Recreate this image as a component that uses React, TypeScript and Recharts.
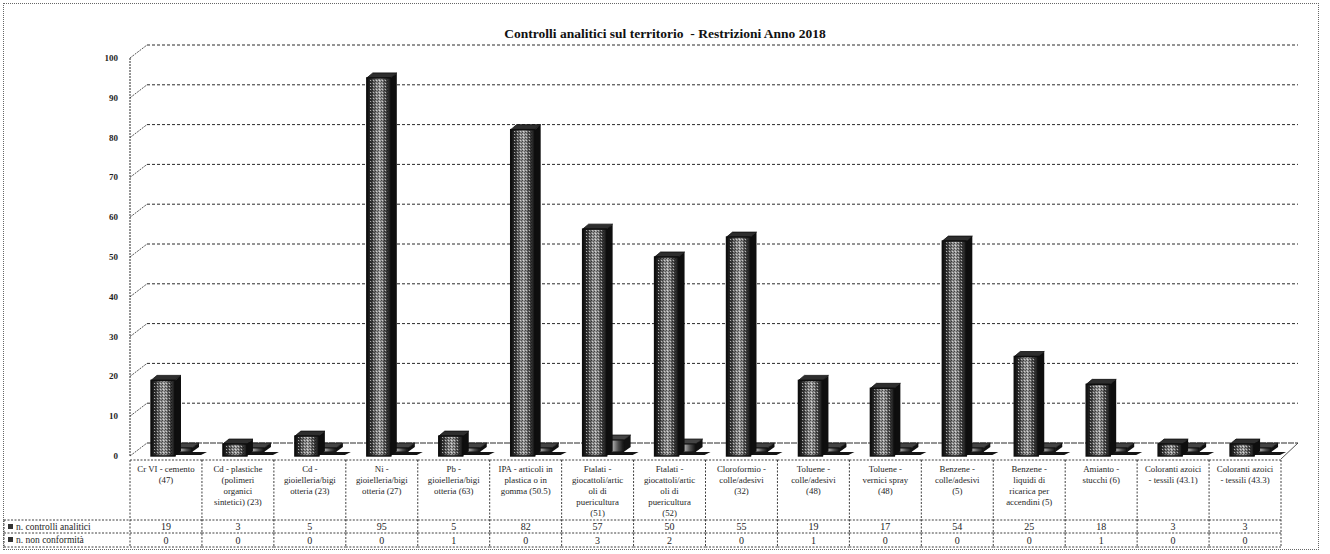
import { BarChart, Bar, XAxis, YAxis, CartesianGrid } from 'recharts';

// Category labels, with the line breaks used in the data table
const categories = [
  'Cr VI - cemento\n(47)',
  'Cd - plastiche\n(polimeri\norganici\nsintetici) (23)',
  'Cd -\ngioielleria/bigi\notteria (23)',
  'Ni -\ngioielleria/bigi\notteria (27)',
  'Pb -\ngioielleria/bigi\notteria (63)',
  'IPA - articoli in\nplastica o in\ngomma (50.5)',
  'Ftalati -\ngiocattoli/artic\noli di\npuericultura\n(51)',
  'Ftalati -\ngiocattoli/artic\noli di\npuericultura\n(52)',
  'Cloroformio -\ncolle/adesivi\n(32)',
  'Toluene -\ncolle/adesivi\n(48)',
  'Toluene -\nvernici spray\n(48)',
  'Benzene -\ncolle/adesivi\n(5)',
  'Benzene -\nliquidi di\nricarica per\naccendini (5)',
  'Amianto -\nstucchi (6)',
  'Coloranti azoici\n- tessili (43.1)',
  'Coloranti azoici\n- tessili (43.3)',
];
const controlli = [19, 3, 5, 95, 5, 82, 57, 50, 55, 19, 17, 54, 25, 18, 3, 3];
const nonConformita = [0, 0, 0, 0, 1, 0, 3, 2, 0, 1, 0, 0, 0, 1, 0, 0];
const seriesNames = ['n. controlli analitici', 'n. non conformità'];
const yTicks = [0, 10, 20, 30, 40, 50, 60, 70, 80, 90, 100];

const W = 1330;
const H = 554;
const PLOT_LEFT = 130;
const PLOT_RIGHT = 1281;
const PLOT_TOP = 58;
const PLOT_BOTTOM = 456;
const BAND = (PLOT_RIGHT - PLOT_LEFT) / categories.length;
const DEPTH_X = 17;
const DEPTH_Y = -13;
const TABLE_TOP = 460;
const ROW1 = 520;
const ROW2 = 533;
const TABLE_BOTTOM = 547;
const FONT = '"Liberation Serif", "DejaVu Serif", serif';
const LINE = '#2a2a2a';
const TEXT = '#1e1e1e';

const data = categories.map((name, i) => ({
  name,
  controlli: controlli[i],
  nonConformita: nonConformita[i],
}));

// front row bar: face + side + top
const FrontBar = (props: any) => {
  const { x, y, width, height } = props;
  const fx = x - 3;
  const w = width;
  const dx = 6;
  const dy = 5;
  const top = y;
  const bottom = y + height;
  return (
    <g>
      <polygon
        points={`${fx + w},${top} ${fx + w + dx},${top - dy} ${fx + w + dx},${bottom - dy} ${fx + w},${bottom}`}
        fill="#0e0e0e"
      />
      <polygon
        points={`${fx},${top} ${fx + dx},${top - dy} ${fx + w + dx},${top - dy} ${fx + w},${top}`}
        fill="#2e2e2e"
        stroke="#0e0e0e"
        strokeWidth={0.8}
      />
      <rect x={fx} y={top} width={w} height={height} fill="url(#barFace)" stroke="#0e0e0e" strokeWidth={1.4} />
      <rect x={fx + 3} y={top + 1} width={w - 6} height={Math.max(0, height - 2)} fill="url(#dither)" />
    </g>
  );
};

// back row bar, sits one row deeper and partly hidden by the front one
const BackBar = (props: any) => {
  const { x, y, width, height } = props;
  const fx = x + 14;
  const w = width;
  const dx = 7;
  const dy = 5;
  const bottom = y + height - 4;
  const top = Math.min(y - 4, bottom - 4);
  return (
    <g>
      <polygon
        points={`${fx + w},${top} ${fx + w + dx},${top - dy} ${fx + w + dx},${bottom - dy} ${fx + w},${bottom}`}
        fill="#121212"
      />
      <polygon
        points={`${fx},${top} ${fx + dx},${top - dy} ${fx + w + dx},${top - dy} ${fx + w},${top}`}
        fill="#444"
        stroke="#111"
        strokeWidth={0.8}
      />
      <rect x={fx} y={top} width={w} height={bottom - top} fill="url(#barFace)" stroke="#111" strokeWidth={1} />
      <polygon
        points={`${fx},${bottom} ${fx + w + dx + 8},${bottom} ${fx + w + dx + 2},${bottom + 3} ${fx},${bottom + 3}`}
        fill="#151515"
      />
    </g>
  );
};

const GridLine = (props: any) => {
  const { x1, x2, y1, index } = props;
  const isFloor = Math.abs(y1 - PLOT_BOTTOM) < 1;
  return (
    <g key={`grid-${index}-${y1}`}>
      <line
        x1={x1 + DEPTH_X}
        y1={y1 + DEPTH_Y}
        x2={x2 + DEPTH_X}
        y2={y1 + DEPTH_Y}
        stroke={LINE}
        strokeWidth={1}
        strokeDasharray={isFloor ? '6 1' : '3 2'}
      />
      <line x1={x1} y1={y1} x2={x1 + DEPTH_X} y2={y1 + DEPTH_Y} stroke={LINE} strokeWidth={0.8} strokeDasharray="2 1" />
      {isFloor && (
        <line x1={x2} y1={y1 + 3} x2={x2 + DEPTH_X} y2={y1 + DEPTH_Y} stroke={LINE} strokeWidth={0.8} />
      )}
    </g>
  );
};

const YTick = (props: any) => {
  const { y, payload } = props;
  return (
    <text x={PLOT_LEFT - 12} y={y + 3} textAnchor="end" fontFamily={FONT} fontSize={9} fontWeight="bold" fill={TEXT}>
      {payload.value}
    </text>
  );
};

const dotted = { stroke: LINE, strokeWidth: 0.9, strokeDasharray: '2 1.5' };

// Each x tick draws one column of the data table
const TableTick = (props: any) => {
  const { x, payload } = props;
  const i = categories.indexOf(payload.value);
  const left = x - BAND / 2;
  const right = x + BAND / 2;
  const lines = String(payload.value).split('\n');
  return (
    <g>
      <line x1={left} y1={TABLE_TOP} x2={right} y2={TABLE_TOP} {...dotted} />
      <line x1={left} y1={ROW1} x2={right} y2={ROW1} {...dotted} />
      <line x1={left} y1={ROW2} x2={right} y2={ROW2} {...dotted} />
      <line x1={left} y1={TABLE_BOTTOM} x2={right} y2={TABLE_BOTTOM} {...dotted} />
      <line x1={left} y1={TABLE_TOP} x2={left} y2={TABLE_BOTTOM} {...dotted} />
      {i === categories.length - 1 && <line x1={right} y1={TABLE_TOP} x2={right} y2={TABLE_BOTTOM} {...dotted} />}
      {lines.map((ln, k) => (
        <text key={k} x={x} y={472 + k * 11} textAnchor="middle" fontFamily={FONT} fontSize={8.8} fill={TEXT}>
          {ln}
        </text>
      ))}
      <text x={x} y={ROW1 + 10} textAnchor="middle" fontFamily={FONT} fontSize={10} fill={TEXT}>
        {controlli[i]}
      </text>
      <text x={x} y={ROW2 + 11} textAnchor="middle" fontFamily={FONT} fontSize={10} fill={TEXT}>
        {nonConformita[i]}
      </text>
      {i === 0 && (
        <g>
          <line x1={4} y1={ROW1} x2={left} y2={ROW1} {...dotted} />
          <line x1={4} y1={ROW2} x2={left} y2={ROW2} {...dotted} />
          <line x1={4} y1={TABLE_BOTTOM} x2={left} y2={TABLE_BOTTOM} {...dotted} />
          <line x1={4} y1={ROW1} x2={4} y2={TABLE_BOTTOM} {...dotted} />
          <rect x={8} y={ROW1 + 4} width={5} height={5} fill="#333" />
          <rect x={8} y={ROW2 + 4} width={5} height={5} fill="#333" />
          <text x={16} y={ROW1 + 9.5} fontFamily={FONT} fontSize={9.5} fill={TEXT}>
            {seriesNames[0]}
          </text>
          <text x={16} y={ROW2 + 9.5} fontFamily={FONT} fontSize={9.5} fill={TEXT}>
            {seriesNames[1]}
          </text>
        </g>
      )}
    </g>
  );
};

export default function App() {
  return (
    <div style={{ position: 'absolute', left: 0, top: 0, width: W, height: H, background: '#fff' }}>
      <div
        style={{
          position: 'absolute',
          left: 3,
          top: 3,
          width: 1316,
          height: 547,
          border: '1px dotted #666',
          boxSizing: 'border-box',
        }}
      />
      <div
        style={{
          position: 'absolute',
          left: 0,
          top: 26,
          width: W,
          textAlign: 'center',
          fontFamily: FONT,
          fontWeight: 'bold',
          fontSize: 13.5,
          color: '#111',
          lineHeight: '15px',
        }}
      >
        Controlli analitici sul territorio&nbsp; - Restrizioni Anno 2018
      </div>
      <BarChart
        width={W}
        height={H}
        data={data}
        margin={{ top: PLOT_TOP, right: W - PLOT_RIGHT, bottom: 0, left: 0 }}
        style={{ position: 'absolute', left: 0, top: 0 }}
      >
        <defs>
          <linearGradient id="barFace" x1="0" y1="0" x2="1" y2="0">
            <stop offset="0%" stopColor="#0a0a0a" />
            <stop offset="14%" stopColor="#262626" />
            <stop offset="38%" stopColor="#7c7c7c" />
            <stop offset="56%" stopColor="#a2a2a2" />
            <stop offset="78%" stopColor="#4c4c4c" />
            <stop offset="100%" stopColor="#101010" />
          </linearGradient>
          <pattern id="dither" width={3} height={3} patternUnits="userSpaceOnUse">
            <rect x={0} y={0} width={1} height={1} fill="#000" opacity={0.55} />
            <rect x={2} y={1} width={1} height={1} fill="#000" opacity={0.4} />
            <rect x={1} y={2} width={1} height={1} fill="#fff" opacity={0.6} />
          </pattern>
        </defs>
        <CartesianGrid xAxisId="front" vertical={false} horizontal={GridLine} />
        <XAxis
          xAxisId="front"
          dataKey="name"
          height={H - PLOT_BOTTOM}
          interval={0}
          tickLine={false}
          axisLine={false}
          tick={TableTick}
        />
        <XAxis xAxisId="back" dataKey="name" hide />
        <YAxis
          width={PLOT_LEFT}
          domain={[0, 100]}
          ticks={yTicks}
          interval={0}
          tickLine={false}
          axisLine={{ stroke: LINE, strokeDasharray: '2 1' }}
          tick={YTick}
        />
        <Bar
          xAxisId="back"
          dataKey="nonConformita"
          name={seriesNames[1]}
          barSize={24}
          shape={BackBar}
          isAnimationActive={false}
        />
        <Bar
          xAxisId="front"
          dataKey="controlli"
          name={seriesNames[0]}
          barSize={24}
          shape={FrontBar}
          isAnimationActive={false}
        />
      </BarChart>
    </div>
  );
}
